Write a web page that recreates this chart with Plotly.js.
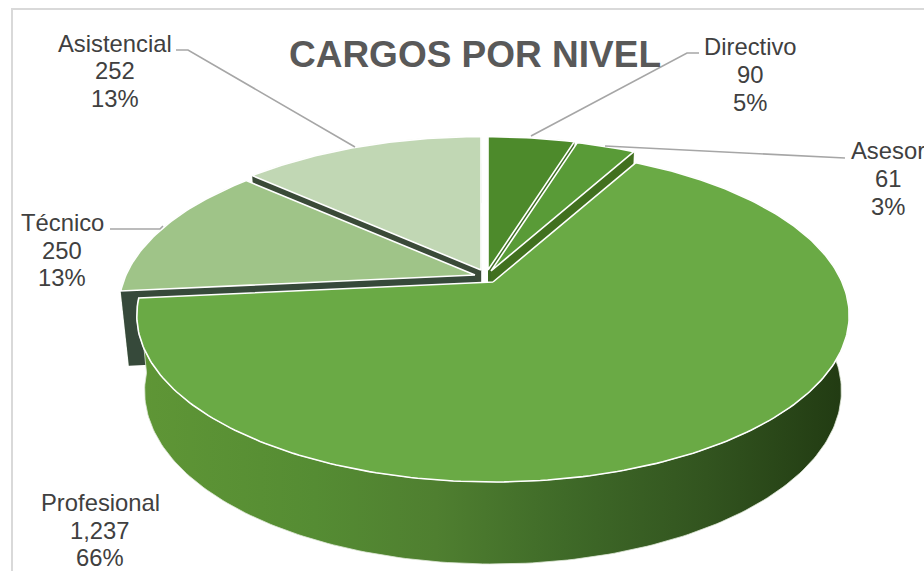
<!DOCTYPE html>
<html><head><meta charset="utf-8">
<script src="https://cdn.plot.ly/plotly-3.0.1.min.js"></script>
<style>html,body{margin:0;padding:0;background:#fff;overflow:hidden}</style>
</head><body><div id="chart" style="width:924px;height:571px"></div>
<script>
var categories = ["Directivo","Asesor","Profesional","Técnico","Asistencial"];
var values = [90,61,1237,250,252];
var valueLabels = ["90","61","1,237","250","252"];
var percentLabels = ["5%","3%","66%","13%","13%"];
var topColors = ["#4d8a2b","#599b37","#6aaa45","#9fc488","#c1d7b4"];
var faceColors = ["#3d6b22","#41701f","#3f6a25","#36493a","#3a4a38"];
var apexX = [488,491,493,475,481];
var apexY = [270,271,282,275,270];
var labelX = [750,888,100,62,115];
var labelY = [[46,74,102],[150,178,206],[502,530,557],[222,250,277],[43,70,98]];
var drawOrder = [4,3,0,1,2];
var titleText = "CARGOS POR NIVEL";

var total = values.reduce(function(a,b){return a+b;},0);
var A = 349, B = 160, K = 0.2, CX = 493, TAPER = 0.978, D0 = 74, D1 = 8;
function topPoint(i,t){var u=Math.sin(t),v=-Math.cos(t),w=1-K*v;
  return [apexX[i]+A*u/w, apexY[i]+B*v/w, v];}
function basePoint(i,p){return [CX+(p[0]-CX)*TAPER, p[1]+D0+D1*p[2]];}
var angles=[],c=0;
values.forEach(function(v){var s=c/total*2*Math.PI;c+=v;angles.push([s,c/total*2*Math.PI]);});
function arc(i){var a=angles[i],n=Math.max(8,Math.round((a[1]-a[0])*60)),o=[];
  for(var k=0;k<=n;k++)o.push(topPoint(i,a[0]+(a[1]-a[0])*k/n));return o;}
function poly(pts,color,line,grad){
  var tr={type:"scatter",mode:"lines",x:pts.map(function(p){return p[0];}),y:pts.map(function(p){return p[1];}),
    fill:"toself",line:line||{width:0},hoverinfo:"skip",showlegend:false,fillcolor:color};
  if(grad){tr.fillgradient=grad;delete tr.fillcolor;}
  return tr;
}
var traces=[];
drawOrder.forEach(function(i){
  var a=arc(i),apex=[apexX[i],apexY[i],0],ab=basePoint(i,apex);
  var wall=a.concat(a.slice().reverse().map(function(p){return basePoint(i,p);}));
  wall.push(a[0]);
  var grad = i===2 ? {type:"horizontal",colorscale:[[0,"#5f9636"],[0.25,"#558c33"],[0.42,"#4f7f30"],[0.6,"#3f6a28"],[0.8,"#32541f"],[1,"#213a12"]]} : null;
  traces.push(poly(wall,i===2?"#4f7f30":faceColors[i],{color:"#dfe8d8",width:0.8},grad));
  if(i!==2){[a[0],a[a.length-1]].forEach(function(e){
    traces.push(poly([apex,e,basePoint(i,e),ab,apex],faceColors[i]));
  });}
  traces.push(poly([apex].concat(a,[apex]),topColors[i],{color:"#ffffff",width:1.6}));
});

var font={family:"Liberation Sans, Arial, sans-serif",size:23.8,color:"#404040"};
var annotations=[];
categories.forEach(function(name,i){
  [name,valueLabels[i],percentLabels[i]].forEach(function(text,j){
    annotations.push({xref:"x",yref:"y",x:labelX[i],y:labelY[i][j],text:text,showarrow:false,
      xanchor:"center",yanchor:"middle",font:font,borderpad:0});
  });
});
function leader(xs,ys){
  return {type:"path",xref:"x",yref:"y",line:{color:"#a6a6a6",width:1.6},
    path:xs.map(function(x,k){return (k?"L":"M")+x+" "+ys[k];}).join(" ")};
}
var shapes=[
  {type:"rect",xref:"x",yref:"y",x0:12,y0:9,x1:960,y1:600,line:{color:"#d9d9d9",width:2},layer:"below"},
  leader([176,188,355],[50,50,147]),
  leader([699,687,531],[53,53,136]),
  leader([845,605],[158,146]),
  leader([110,160,163],[229,229,226])
];
Plotly.newPlot("chart",traces,{
  width:924,height:571,margin:{l:0,r:0,t:0,b:0},paper_bgcolor:"#fff",plot_bgcolor:"#fff",showlegend:false,
  xaxis:{range:[0,924],visible:false,fixedrange:true},
  yaxis:{range:[571,0],visible:false,fixedrange:true},
  title:{text:titleText,x:475/924,xanchor:"center",y:1-54/571,yanchor:"middle",
    font:{family:"Liberation Sans, Arial, sans-serif",size:37,color:"#595959",weight:700}},
  annotations:annotations,shapes:shapes
},{displayModeBar:false,staticPlot:true});
</script></body></html>
